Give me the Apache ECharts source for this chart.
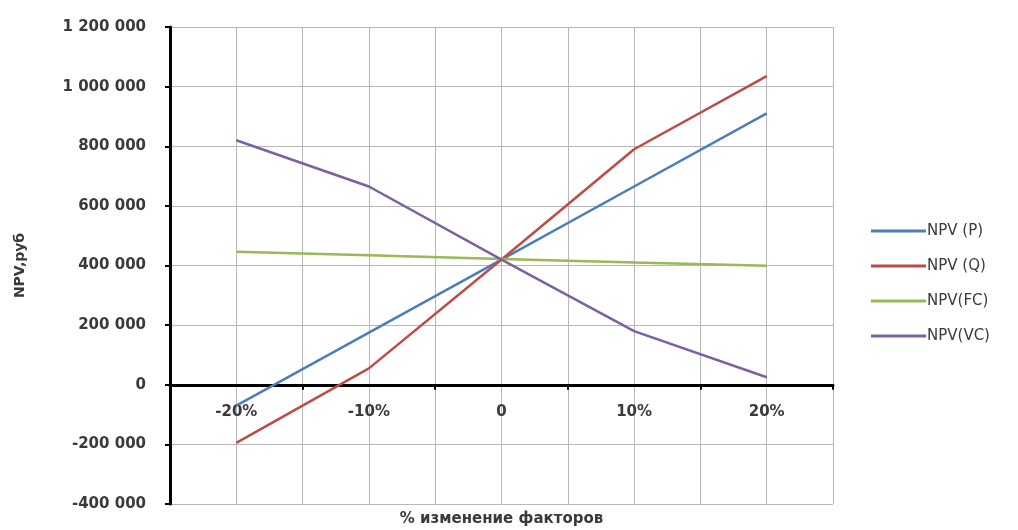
<!DOCTYPE html>
<html>
<head>
<meta charset="utf-8">
<script src="https://cdn.jsdelivr.net/npm/echarts@6/dist/echarts.min.js"></script>
<style>
  html, body { margin: 0; padding: 0; background: #ffffff; }
  #chart { width: 1018px; height: 530px; }
</style>
</head>
<body>
<div id="chart"></div>
<script>
// Percentage change of each factor
const categories = ['-20%', '-10%', '0', '10%', '20%'];

// NPV, roubles, for a change in price, volume, fixed and variable costs
const npvP  = [-70000, 175000, 420000, 665000, 910000];
const npvQ  = [-195000, 55000, 420000, 790000, 1035000];
const npvFC = [446000, 434000, 422000, 410000, 399000];
const npvVC = [820000, 665000, 420000, 180000, 25000];

const seriesNames = ['NPV (P)', 'NPV (Q)', 'NPV(FC)', 'NPV(VC)'];
const seriesColors = ['#4a7ebb', '#be4b48', '#98b954', '#7d60a0'];

const yMin = -400000, yMax = 1200000, yStep = 200000;

const textColor = '#3a3a3a';
const fontFamily = 'DejaVu Sans';

const chartHeight = 530;
const gridTop = 27, gridBottom = 26;
const gridHeight = chartHeight - gridTop - gridBottom;
// lift the category axis from the bottom edge up to the zero line
const zeroLineOffset = -gridHeight * (0 - yMin) / (yMax - yMin);

function groupThousands(v) {
  const s = String(Math.abs(v)).replace(/\B(?=(\d{3})+(?!\d))/g, ' ');
  return (v < 0 ? '-' : '') + s;
}

const chart = echarts.init(document.getElementById('chart'), null, { renderer: 'canvas' });

const values = [npvP, npvQ, npvFC, npvVC];

chart.setOption({
  animation: false,
  backgroundColor: '#ffffff',
  grid: { left: 170, right: 185, top: gridTop, bottom: gridBottom, containLabel: false, outerBoundsMode: 'none' },
  legend: {
    orient: 'vertical',
    left: 866,
    top: 218,
    icon: 'rect',
    itemWidth: 55,
    itemHeight: 3,
    itemGap: 19,
    data: seriesNames,
    textStyle: { color: textColor, fontFamily: fontFamily, fontSize: 15, lineHeight: 16, padding: [0, 0, 0, -4] }
  },
  xAxis: [
    {
      type: 'category',
      data: categories,
      boundaryGap: true,
      position: 'bottom',
      offset: zeroLineOffset,
      axisLine: { onZero: false, lineStyle: { color: '#000000', width: 3 } },
      axisTick: { show: true, alignWithLabel: false, length: 5, lineStyle: { color: '#000000', width: 2 } },
      axisLabel: { color: textColor, fontFamily: fontFamily, fontWeight: 'bold', fontSize: 15, margin: 20 },
      splitLine: { show: false },
      name: '% изменение факторов',
      nameLocation: 'middle',
      nameGap: 127,
      nameTextStyle: { color: textColor, fontFamily: fontFamily, fontWeight: 'bold', fontSize: 15 }
    },
    {
      // helper scale for the vertical grid (category centres and boundaries)
      type: 'value',
      min: -25,
      max: 25,
      interval: 5,
      position: 'top',
      axisLine: { show: false },
      axisTick: { show: false },
      axisLabel: { show: false },
      splitLine: { show: true, lineStyle: { color: '#b8b8b8', width: 1 } }
    }
  ],
  yAxis: {
    type: 'value',
    min: yMin,
    max: yMax,
    interval: yStep,
    axisLine: { show: true, onZero: false, lineStyle: { color: '#000000', width: 3 } },
    axisTick: { show: true, length: 5, lineStyle: { color: '#000000', width: 2 } },
    axisLabel: {
      color: textColor, fontFamily: fontFamily, fontWeight: 'bold', fontSize: 15, margin: 24,
      formatter: groupThousands
    },
    splitLine: { show: true, lineStyle: { color: '#b8b8b8', width: 1 } },
    name: 'NPV,руб',
    nameLocation: 'middle',
    nameRotate: 90,
    nameGap: 143,
    nameTextStyle: { color: textColor, fontFamily: fontFamily, fontWeight: 'bold', fontSize: 14 }
  },
  series: seriesNames.map((name, i) => ({
    name: name,
    type: 'line',
    xAxisIndex: 0,
    data: values[i],
    showSymbol: false,
    symbol: 'none',
    lineStyle: { color: seriesColors[i], width: 2.5 },
    itemStyle: { color: seriesColors[i] },
    z: 3
  }))
});
</script>
</body>
</html>
